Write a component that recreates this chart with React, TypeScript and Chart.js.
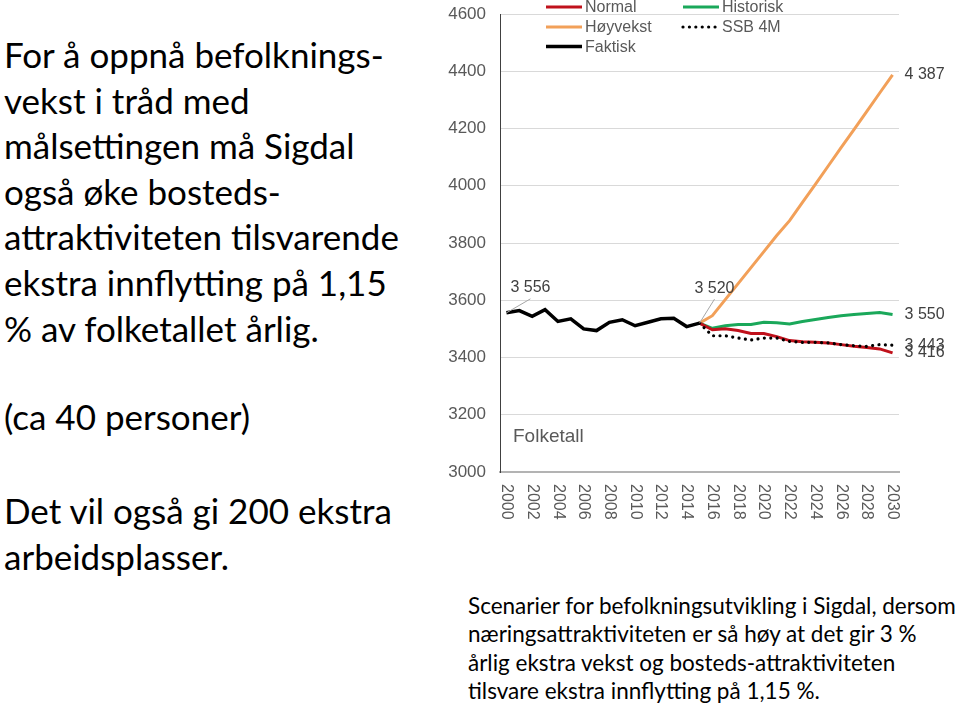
import React, { useEffect, useRef } from "react";
import { Chart, registerables } from "chart.js";

Chart.register(...registerables);

// ---------- data ----------
const years = [
  "2000", "2001", "2002", "2003", "2004", "2005", "2006", "2007", "2008", "2009",
  "2010", "2011", "2012", "2013", "2014", "2015", "2016", "2017", "2018", "2019",
  "2020", "2021", "2022", "2023", "2024", "2025", "2026", "2027", "2028", "2029", "2030",
];

// Actual population 2000–2015
const faktisk = [
  3556, 3564, 3544, 3567, 3526, 3535, 3500, 3494, 3523, 3532,
  3511, 3523, 3535, 3537, 3508, 3520,
];

// Projections 2015–2030
const normal = [3520, 3497, 3500, 3494, 3484, 3484, 3473, 3459, 3455, 3453, 3451, 3445, 3439, 3435, 3430, 3416];
const hoyvekst = [3520, 3546, 3602, 3658, 3714, 3770, 3826, 3878, 3942, 4005, 4069, 4133, 4196, 4260, 4324, 4387];
const historisk = [3520, 3502, 3511, 3515, 3515, 3523, 3521, 3517, 3526, 3533, 3540, 3546, 3550, 3554, 3557, 3550];
const ssb4m = [3520, 3476, 3476, 3468, 3461, 3468, 3468, 3456, 3453, 3453, 3451, 3445, 3441, 3439, 3445, 3443];

const yTicks = [3000, 3200, 3400, 3600, 3800, 4000, 4200, 4400, 4600];

const chartTitle = "Folketall";

const leftBlock1 = [
  "For å oppnå befolknings-",
  "vekst i tråd med",
  "målsettingen må Sigdal",
  "også øke bosteds-",
  "attraktiviteten tilsvarende",
  "ekstra innflytting på 1,15",
  "% av folketallet årlig.",
];
const leftBlock2 = ["(ca 40 personer)"];
const leftBlock3 = ["Det vil også gi 200 ekstra", "arbeidsplasser."];
const captionLines = [
  "Scenarier for befolkningsutvikling i Sigdal, dersom",
  "næringsattraktiviteten er så høy at det gir 3 %",
  "årlig ekstra vekst og bosteds-attraktiviteten",
  "tilsvare ekstra innflytting på 1,15 %.",
];

// ---------- helpers ----------
const projStart = years.indexOf("2015");
const histSeries = (vals: number[]) => years.map((_, i) => (i < vals.length ? vals[i] : null));
const projSeries = (vals: number[]) =>
  years.map((_, i) => (i >= projStart && i - projStart < vals.length ? vals[i - projStart] : null));

const fmt = (v: number) => String(v).replace(/\B(?=(\d{3})+(?!\d))/g, " ");

const CHART_FONT = "'Liberation Sans', Arial, Helvetica, sans-serif";
const TEXT_FONT = "Lato, 'Open Sans', sans-serif";
const GREY = "#595959";

// label placement (styling, not data)
const pointLabels = [
  { series: "Faktisk", year: "2000", dx: 24, dy: -25, leader: true, align: "center" },
  { series: "Faktisk", year: "2015", dx: 15, dy: -35, leader: true, align: "center" },
  { series: "Høyvekst", year: "2030", dx: 12, dy: 0, leader: false, align: "left" },
  { series: "Historisk", year: "2030", dx: 12, dy: 0, leader: false, align: "left" },
  { series: "SSB 4M", year: "2030", dx: 12, dy: 0, leader: false, align: "left" },
  { series: "Normal", year: "2030", dx: 12, dy: 0, leader: false, align: "left" },
];

const legendColumns = [
  ["Normal", "Høyvekst", "Faktisk"],
  ["Historisk", "SSB 4M"],
];

const overlayPlugin = {
  id: "overlay",
  afterDraw(chart: any) {
    const ctx = chart.ctx as CanvasRenderingContext2D;
    const area = chart.chartArea;
    const datasets = chart.data.datasets;
    const xScale = chart.scales.x;
    ctx.save();

    // x tick labels, rotated clockwise (read top-to-bottom)
    ctx.font = `16px ${CHART_FONT}`;
    ctx.fillStyle = GREY;
    ctx.textAlign = "left";
    ctx.textBaseline = "middle";
    years.forEach((yr, i) => {
      if (i % 2 !== 0) return;
      const x = xScale.getPixelForValue(i);
      ctx.save();
      ctx.translate(x, area.bottom + 12);
      ctx.rotate(Math.PI / 2);
      ctx.fillText(yr, 0, 0);
      ctx.restore();
    });

    // data labels
    ctx.font = `16px ${CHART_FONT}`;
    ctx.textBaseline = "middle";
    for (const pl of pointLabels) {
      const dsIndex = datasets.findIndex((d: any) => d.label === pl.series);
      if (dsIndex < 0) continue;
      const idx = years.indexOf(pl.year);
      const meta = chart.getDatasetMeta(dsIndex);
      const el = meta.data[idx];
      const v = datasets[dsIndex].data[idx];
      if (!el || v == null) continue;
      const x = el.x + pl.dx;
      const y = el.y + pl.dy;
      if (pl.leader) {
        ctx.strokeStyle = "#a6a6a6";
        ctx.lineWidth = 1;
        ctx.beginPath();
        ctx.moveTo(x, y + 11);
        ctx.lineTo(el.x, el.y);
        ctx.stroke();
      }
      ctx.fillStyle = "#404040";
      ctx.textAlign = pl.align as CanvasTextAlign;
      ctx.fillText(fmt(v as number), x, y);
    }

    // chart title inside plot (bottom-left)
    ctx.font = `19px ${CHART_FONT}`;
    ctx.fillStyle = GREY;
    ctx.textAlign = "left";
    ctx.fillText(chartTitle, area.left + 13, 437);

    // legend (column layout)
    const colX = [115, 252];
    const rowY = [7, 27, 46.5];
    ctx.font = `16px ${CHART_FONT}`;
    legendColumns.forEach((col, ci) => {
      col.forEach((name, ri) => {
        const ds = datasets.find((d: any) => d.label === name);
        if (!ds) return;
        const x0 = colX[ci];
        const y0 = rowY[ri];
        ctx.save();
        ctx.strokeStyle = ds.borderColor;
        ctx.lineWidth = ds.borderWidth;
        ctx.lineCap = ds.borderDash && ds.borderDash.length ? "round" : "butt";
        ctx.setLineDash(ds.borderDash || []);
        ctx.beginPath();
        ctx.moveTo(x0 + 1, y0);
        ctx.lineTo(x0 + 37, y0);
        ctx.stroke();
        ctx.restore();
        ctx.fillStyle = GREY;
        ctx.textAlign = "left";
        ctx.textBaseline = "middle";
        ctx.fillText(name, x0 + 40, y0 + 1);
      });
    });
    ctx.restore();
  },
};

export default function App() {
  const ref = useRef<HTMLCanvasElement>(null);

  useEffect(() => {
    if (!ref.current) return;
    const chart = new Chart(ref.current, {
      type: "line",
      data: {
        labels: years,
        datasets: [
          {
            label: "Normal",
            data: projSeries(normal),
            borderColor: "#c0111b",
            backgroundColor: "#c0111b",
            borderWidth: 3,
            order: 2,
          },
          {
            label: "Høyvekst",
            data: projSeries(hoyvekst),
            borderColor: "#f2a059",
            backgroundColor: "#f2a059",
            borderWidth: 3,
            order: 4,
          },
          {
            label: "Faktisk",
            data: histSeries(faktisk),
            borderColor: "#000000",
            backgroundColor: "#000000",
            borderWidth: 3.5,
            order: 0,
          },
          {
            label: "Historisk",
            data: projSeries(historisk),
            borderColor: "#1aa85a",
            backgroundColor: "#1aa85a",
            borderWidth: 3,
            order: 3,
          },
          {
            label: "SSB 4M",
            data: projSeries(ssb4m),
            borderColor: "#000000",
            backgroundColor: "#000000",
            borderWidth: 3.2,
            borderDash: [0.01, 6.4],
            borderCapStyle: "round",
            order: 1,
          },
        ] as any,
      },
      options: {
        responsive: false,
        animation: false,
        devicePixelRatio: 1,
        layout: { padding: { top: 14, right: 61, left: 0, bottom: 0 } },
        elements: { point: { radius: 0, hoverRadius: 0 }, line: { tension: 0 } },
        plugins: {
          legend: { display: false },
          tooltip: { enabled: false },
          title: { display: false },
        },
        events: [],
        scales: {
          x: {
            offset: true,
            grid: { display: false, drawTicks: false },
            border: { display: true, color: "#b3b3b3", width: 2 },
            ticks: {
              autoSkip: false,
              minRotation: 0,
              maxRotation: 0,
              callback: () => "",
            },
            afterFit: (axis: any) => {
              axis.height = 58;
              axis.paddingLeft = 0;
              axis.paddingRight = 0;
            },
          },
          y: {
            min: yTicks[0],
            max: yTicks[yTicks.length - 1],
            afterBuildTicks: (axis: any) => {
              axis.ticks = yTicks.map((v) => ({ value: v }));
            },
            grid: { color: "#d9d9d9", lineWidth: 1, drawTicks: false },
            border: { display: true, color: "#404040", width: 1 },
            ticks: {
              padding: 14,
              color: GREY,
              font: { family: CHART_FONT, size: 17 },
              callback: (v: any) => String(v),
            },
            afterFit: (axis: any) => {
              axis.width = 70;
              axis.paddingTop = 0;
              axis.paddingBottom = 0;
            },
          },
        },
      } as any,
      plugins: [overlayPlugin],
    });
    return () => chart.destroy();
  }, []);

  const lineStyle = (top: number, size: number, lh: number, left: number): React.CSSProperties => ({
    position: "absolute",
    left,
    top,
    fontSize: size,
    lineHeight: `${lh}px`,
    whiteSpace: "nowrap",
    color: "#000",
  });

  return (
    <div
      style={{
        position: "absolute",
        left: 0,
        top: 0,
        width: 960,
        height: 707,
        background: "#fff",
        overflow: "hidden",
        fontFamily: TEXT_FONT,
      }}
    >
      <div style={lineStyle(32, 35, 45.6, 4)}>
        {leftBlock1.map((l, i) => (
          <div key={i}>{l}</div>
        ))}
      </div>
      <div style={lineStyle(394, 35, 45.6, 4)}>
        {leftBlock2.map((l, i) => (
          <div key={i}>{l}</div>
        ))}
      </div>
      <div style={lineStyle(488, 35, 45.6, 4)}>
        {leftBlock3.map((l, i) => (
          <div key={i}>{l}</div>
        ))}
      </div>
      <div style={lineStyle(592, 22.5, 28.4, 468)}>
        {captionLines.map((l, i) => (
          <div key={i}>{l}</div>
        ))}
      </div>
      <canvas
        ref={ref}
        width={530}
        height={530}
        style={{ position: "absolute", left: 430, top: 0, width: 530, height: 530 }}
      />
    </div>
  );
}
